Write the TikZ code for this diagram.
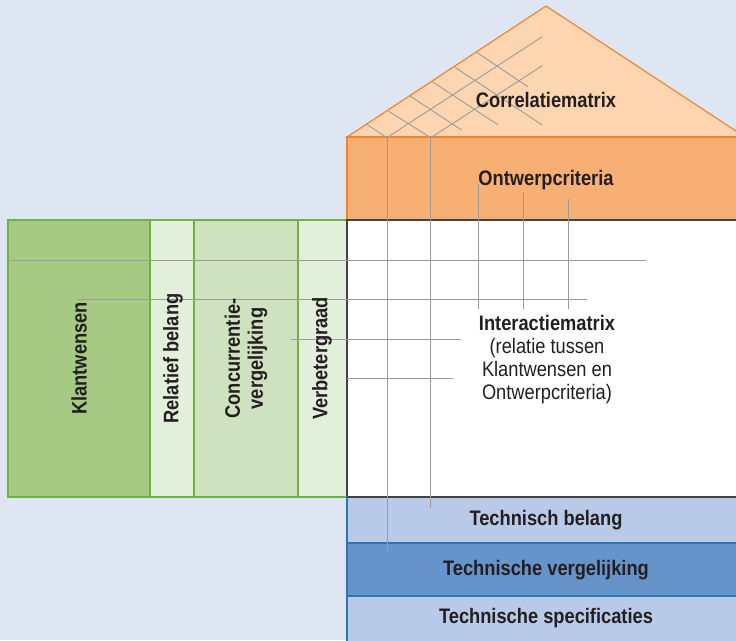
\documentclass[tikz,border=0pt]{standalone}
\usepackage{fontspec}
\setmainfont{Liberation Sans}[FakeStretch=0.87]
\usetikzlibrary{positioning}

\definecolor{backblue}{RGB}{223,230,243}
\definecolor{roofpeach}{RGB}{253,214,177}
\definecolor{roofline}{RGB}{240,133,48}
\definecolor{ontwerporange}{RGB}{248,175,116}
\definecolor{greenline}{RGB}{108,179,63}
\definecolor{greendark}{RGB}{166,202,132}
\definecolor{greenmid}{RGB}{207,226,191}
\definecolor{greenlight}{RGB}{226,239,218}
\definecolor{blueline}{RGB}{46,117,182}
\definecolor{bluelight}{RGB}{185,202,232}
\definecolor{bluemid}{RGB}{102,147,201}
\definecolor{gridgray}{RGB}{155,155,155}
\definecolor{textdark}{RGB}{35,31,32}

\tikzset{
  lbl/.style={font=\fontsize{21}{23}\selectfont, text=textdark, inner sep=0pt},
  bold lbl/.style={lbl, font=\bfseries\fontsize{21}{23}\selectfont},
  grid/.style={draw=gridgray, line width=0.9pt},
  greencol/.style={draw=greenline, line width=1.2pt},
  blueband/.style={draw=blueline, line width=1.2pt}
}

\begin{document}
\begin{tikzpicture}[x=1pt, y=-1pt]
    \useasboundingbox (0,0) rectangle (736,640);
    \clip (0,0) rectangle (736,640);
    \fill[backblue] (0,0) rectangle (736,640);

    \filldraw[fill=roofpeach, draw=roofline, line width=1.2pt] (347,137) -- (546,6) -- (745,137) -- cycle;
    \filldraw[fill=ontwerporange, draw=roofline, line width=1.2pt] (347,137) rectangle (760,220);

    \filldraw[greencol, fill=greendark] (8,220) rectangle (150,497);
    \filldraw[greencol, fill=greenlight] (150,220) rectangle (194,497);
    \filldraw[greencol, fill=greenmid] (194,220) rectangle (298,497);
    \filldraw[greencol, fill=greenlight] (298,220) rectangle (347,497);

    \filldraw[fill=white, draw=textdark!85, line width=1.2pt] (347,220) rectangle (760,497);

    \filldraw[blueband, fill=bluelight] (347,497) rectangle (760,543);
    \filldraw[blueband, fill=bluemid] (347,543) rectangle (760,596);
    \filldraw[blueband, fill=bluelight] (347,596) rectangle (760,660);
    \draw[draw=textdark!85, line width=1.2pt] (347,497) -- (760,497);

    \draw[grid] (386.7,137.7) -- (542.3,36.7);
    \draw[grid] (430.7,137.7) -- (542.3,65.7);
    \draw[grid] (366.7,124.3) -- (386.7,137.7);
    \draw[grid] (388.3,111) -- (430.7,137.7);
    \draw[grid] (410,96) -- (461.7,130);
    \draw[grid] (432.3,81.7) -- (498.3,125);
    \draw[grid] (455,67.3) -- (542.3,125);
    \draw[grid] (476.7,52.3) -- (527.7,86.7);

    \draw[grid] (387,137) -- (387,553);
    \draw[grid] (430,137) -- (430,508);
    \draw[grid] (478,184) -- (478,309);
    \draw[grid] (523,192) -- (523,309);
    \draw[grid] (568,199) -- (568,309);

    \draw[grid] (8,260) -- (646,260);
    \draw[grid] (77,299) -- (587,299);
    \draw[grid] (291,339) -- (461,339);
    \draw[grid] (347,378) -- (453,378);

    \node[bold lbl] (correlatie) at (546,100) {Correlatiematrix};
    \node[bold lbl] (ontwerp) at (546,180) {Ontwerpcriteria};
    \node[lbl, align=center] (interactie) at (547,360) {\textbf{Interactiematrix}\\(relatie tussen\\Klantwensen en\\Ontwerpcriteria)};

    \node[bold lbl, rotate=90] (klantwensen) at (79,358.5) {Klantwensen};
    \node[bold lbl, rotate=90] (relatief) at (173,358.5) {Relatief belang};
    \node[bold lbl, rotate=90, align=center] (concurrentie) at (246,358.5) {Concurrentie-\\vergelijking};
    \node[bold lbl, rotate=90] (verbeter) at (322,358.5) {Verbetergraad};

    \node[bold lbl] (technbelang) at (546,520) {Technisch belang};
    \node[bold lbl] (technverg) at (546,570) {Technische vergelijking};
    \node[bold lbl] (technspec) at (546,618) {Technische specificaties};
\end{tikzpicture}
\end{document}
